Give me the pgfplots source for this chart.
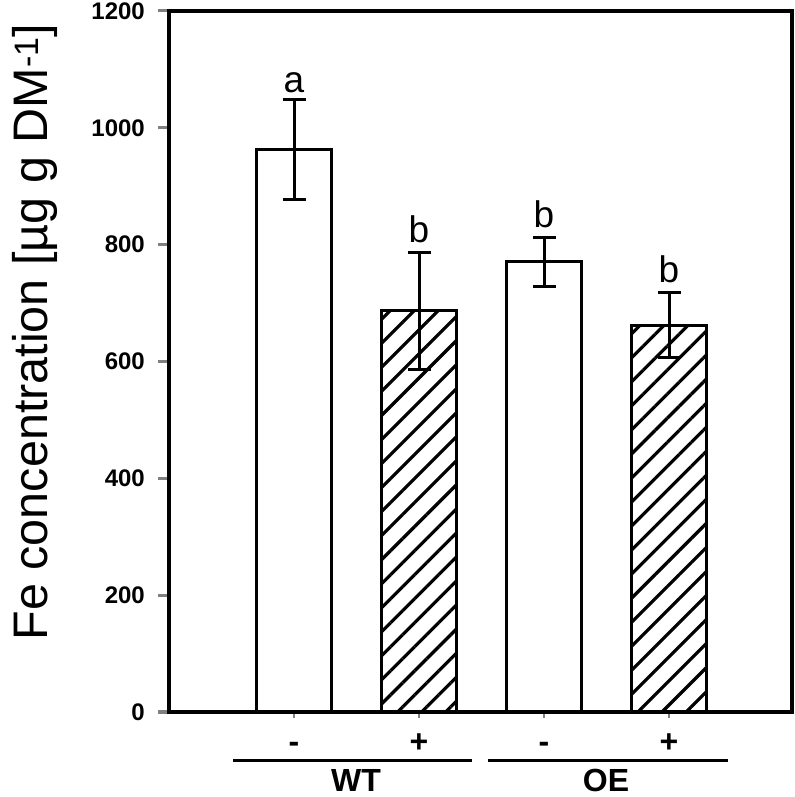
\documentclass[border=0pt]{standalone}
\usepackage{pgfplots}
\pgfplotsset{compat=1.18}
\usetikzlibrary{patterns.meta}
\usepackage{fontspec}
\setmainfont{Liberation Sans}
\begin{document}
\begin{tikzpicture}
\begin{axis}[
  at={(169bp,85bp)}, anchor=south west,
  scale only axis, width=623bp, height=701bp,
  xmin=0, xmax=4.984, ymin=0, ymax=1200,
  axis line style={line width=3.5bp},
  ytick={0,200,400,600,800,1000,1200},
  xtick={1,2,3,4}, xticklabels={-,+,-,+},
  tick align=outside,
  major tick length=11bp,
  ytick style={line width=3bp},
  xtick style={line width=1.5bp, /pgfplots/major tick length=6bp},
  xtick pos=bottom, ytick pos=left,
  /pgf/number format/1000 sep={},
  /pgf/number format/assume math mode=true,
  yticklabel style={font=\fontsize{24bp}{28bp}\selectfont\bfseries, anchor=east, inner sep=0pt, xshift=-13bp},
  xticklabel style={font=\fontsize{32bp}{36bp}\selectfont\bfseries, anchor=base, inner sep=0pt, yshift=-29bp},
  ylabel={Fe concentration [µg g DM\textsuperscript{-1}]},
  ylabel style={font=\fontsize{48.5bp}{52bp}\selectfont, at={(axis description cs:-0.2151,0.542)}, anchor=center},
  ybar, bar shift=0pt, bar width=75bp,
  clip=false,
]
\addplot[draw=black, line width=3bp, fill=white,
  error bars/.cd, y dir=both, y explicit,
  error bar style={line width=3bp},
  error mark options={rotate=90, mark size=11.5bp, line width=3bp}]
  coordinates {(1,963) +- (0,86) (3,771) +- (0,42)};
\addplot[draw=black, line width=3bp, fill=white, postaction={pattern={Lines[angle=45, distance=17bp, line width=3.2bp]}, pattern color=black},
  error bars/.cd, y dir=both, y explicit,
  error bar style={line width=3bp},
  error mark options={rotate=90, mark size=11.5bp, line width=3bp}]
  coordinates {(2,687) +- (0,100) (4,662) +- (0,56)};
\node[font=\fontsize{37bp}{40bp}\selectfont, anchor=base] at (axis cs:1,1049) [yshift=7bp] {a};
\node[font=\fontsize{37bp}{40bp}\selectfont, anchor=base] at (axis cs:2,787) [yshift=10bp] {b};
\node[font=\fontsize{37bp}{40bp}\selectfont, anchor=base] at (axis cs:3,813) [yshift=10bp] {b};
\node[font=\fontsize{37bp}{40bp}\selectfont, anchor=base] at (axis cs:4,718) [yshift=10bp] {b};
\end{axis}
\draw[line width=3bp] (233bp,36bp) -- (472bp,36bp);
\draw[line width=3bp] (488bp,36bp) -- (728bp,36bp);
\node[font=\fontsize{32bp}{36bp}\selectfont\bfseries, anchor=base, inner sep=0pt] at (356bp,6bp) {WT};
\node[font=\fontsize{32bp}{36bp}\selectfont\bfseries, anchor=base, inner sep=0pt] at (606bp,6bp) {OE};
\pgfresetboundingbox
\useasboundingbox (0,0) rectangle (795bp,797bp);
\end{tikzpicture}
\end{document}
